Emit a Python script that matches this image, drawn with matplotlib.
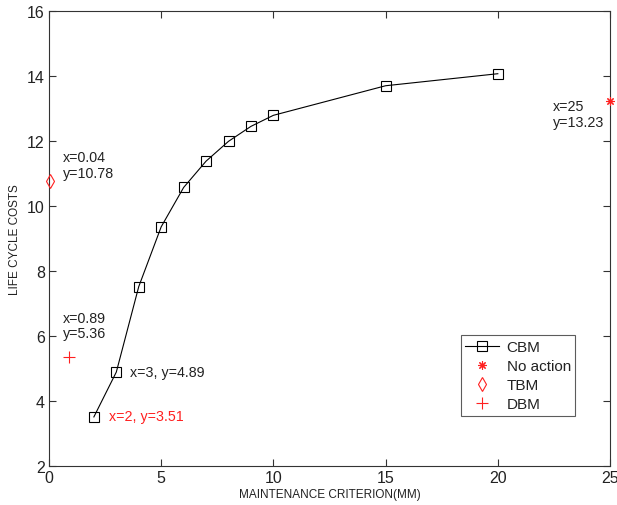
import matplotlib
matplotlib.use("Agg")
import matplotlib.pyplot as plt

plt.rcParams['font.family'] = ['Liberation Sans', 'DejaVu Sans']

# CBM life-cycle cost curve
cbm_x = [2, 3, 4, 5, 6, 7, 8, 9, 10, 15, 20]
cbm_y = [3.51, 4.89, 7.52, 9.36, 10.57, 11.38, 11.99, 12.45, 12.79, 13.70, 14.07]

# Single-point strategies
noaction_x, noaction_y = [25], [13.23]
tbm_x, tbm_y = [0.04], [10.78]
dbm_x, dbm_y = [0.89], [5.36]

x_ticks = [0, 5, 10, 15, 20, 25]
y_ticks = [2, 4, 6, 8, 10, 12, 14, 16]

red = '#ff2020'
txt = '#222222'

fig = plt.figure(figsize=(6.17, 5.06), dpi=100)
ax = fig.add_axes([0.0794, 0.0771, 0.9093, 0.8992])

ax.plot(cbm_x, cbm_y, color='black', lw=0.8, marker='s', markersize=7,
        markerfacecolor='none', markeredgecolor='black', markeredgewidth=0.8,
        label='CBM')
ax.plot(noaction_x, noaction_y, ls='none', marker=(8, 2, 0), markersize=6,
        color=red, markeredgewidth=0.8, clip_on=False, label='No action', zorder=5)
ax.plot(tbm_x, tbm_y, ls='none', marker='d', markersize=7,
        markerfacecolor='none', markeredgecolor=red, markeredgewidth=0.8,
        clip_on=False, label='TBM', zorder=5)
ax.plot(dbm_x, dbm_y, ls='none', marker='+', markersize=8,
        color=red, markeredgewidth=0.8, label='DBM')

ax.set_xlim(0, 25)
ax.set_ylim(2, 16)
ax.set_xticks(x_ticks)
ax.set_yticks(y_ticks)
ax.tick_params(direction='in', length=5, width=0.8, top=True, right=True,
               labelsize=11.5, colors='#333333', labelcolor='#222222', pad=3)
for sp in ax.spines.values():
    sp.set_color('#333333')
    sp.set_linewidth(0.8)

ax.set_xlabel('MAINTENANCE CRITERION(MM)', fontsize=8.5, color='#222222', labelpad=2)
ax.set_ylabel('LIFE CYCLE COSTS', fontsize=8.5, color='#222222', labelpad=4)

# Data tips
ax.text(0.62, 11.26, 'x=0.04\ny=10.78', fontsize=10.3, color=txt, va='center',
        ha='left', linespacing=1.1)
ax.text(0.62, 6.31, 'x=0.89\ny=5.36', fontsize=10.3, color=txt, va='center',
        ha='left', linespacing=1.1)
ax.text(3.61, 4.89, 'x=3, y=4.89', fontsize=10.3, color=txt, va='center', ha='left')
ax.text(2.67, 3.53, 'x=2, y=3.51', fontsize=10.3, color=red, va='center', ha='left')
ax.text(22.46, 12.83, 'x=25\ny=13.23', fontsize=10.3, color=txt, va='center',
        ha='left', linespacing=1.1)

leg = ax.legend(loc='lower left', bbox_to_anchor=(0.734, 0.1105), fontsize=11,
                frameon=True, fancybox=False, edgecolor='#333333',
                handlelength=2.2, handletextpad=0.5, labelspacing=0.33,
                borderpad=0.3, borderaxespad=0)
leg.get_frame().set_linewidth(0.8)
for t in leg.get_texts():
    t.set_color('#222222')

fig.savefig('out.png', dpi=100)
